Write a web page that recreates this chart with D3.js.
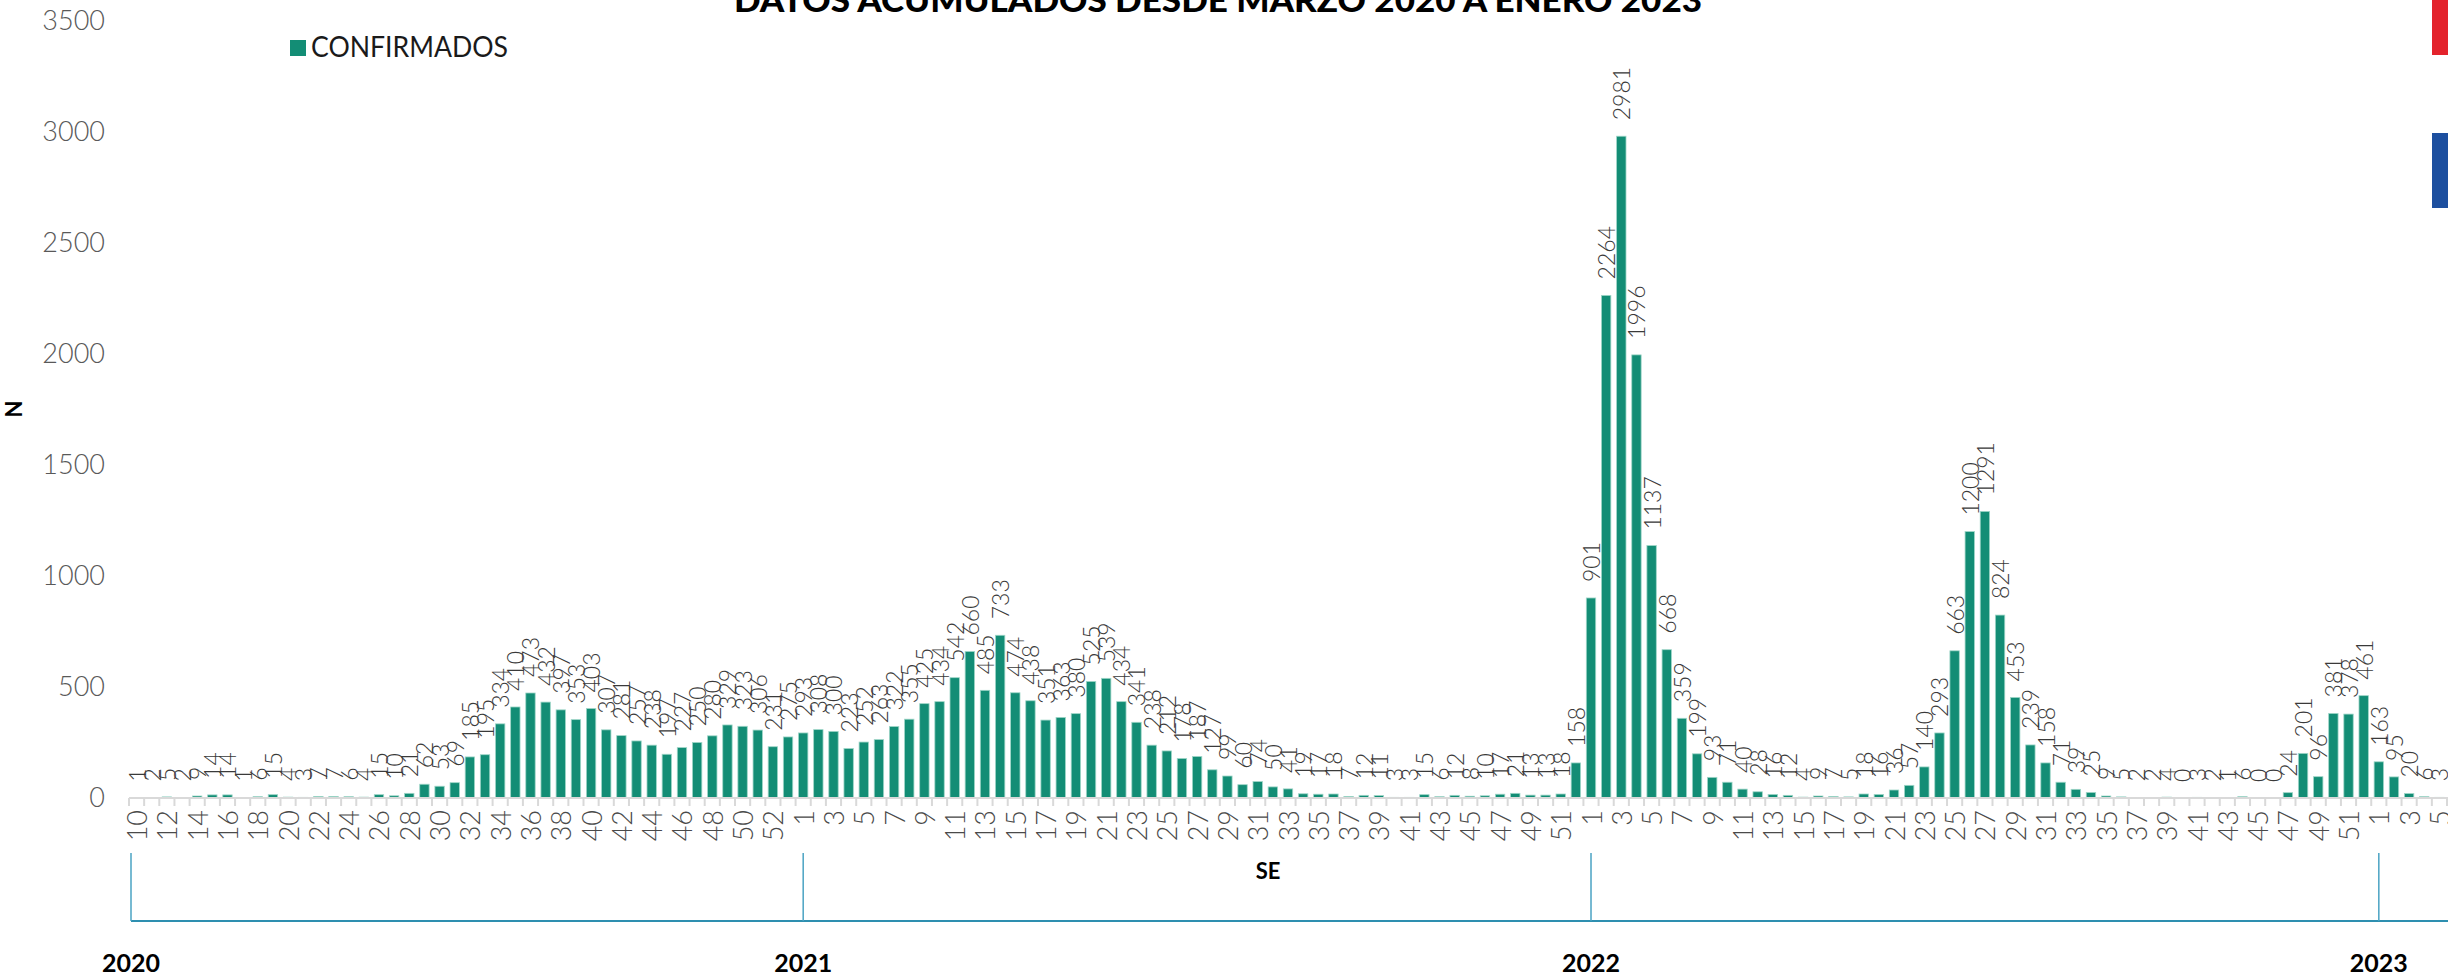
<!DOCTYPE html>
<html>
<head>
<meta charset="utf-8">
<script src="https://cdn.jsdelivr.net/npm/d3@7"></script>
<style>
  html, body { margin: 0; padding: 0; background: #ffffff; }
  svg { display: block; }
</style>
</head>
<body>
<svg id="chart" width="2448" height="977"></svg>
<script>
// ---------------- DATA ----------------
const title = "DATOS ACUMULADOS DESDE MARZO 2020 A ENERO 2023";
const seriesName = "CONFIRMADOS";
const yTicks = [0, 500, 1000, 1500, 2000, 2500, 3000, 3500];
const years = ["2020", "2021", "2022", "2023"];

const weeks2020 = d3.range(10, 54);   // SE 10..53
const cases2020 = [1, 2, 5, 2, 9, 14, 14, 1, 6, 15, 4, 3, 7, 7, 6, 4, 15, 10, 21, 62,
  53, 69, 185, 195, 334, 410, 473, 432, 397, 353, 403, 307, 281, 257, 238, 197, 227, 250,
  280, 329, 323, 306, 231, 275];

const weeks2021 = d3.range(1, 53);    // SE 1..52
const cases2021 = [293, 308, 300, 223, 252, 263, 322, 355, 425, 434, 542, 660, 485, 733,
  474, 438, 351, 363, 380, 525, 539, 434, 341, 238, 212, 178, 187, 127, 99, 60, 74, 50,
  41, 19, 17, 18, 7, 12, 11, 3, 3, 15, 6, 12, 8, 10, 17, 21, 13, 13, 18, 158];

const weeks2022 = d3.range(1, 53);    // SE 1..52
const cases2022 = [901, 2264, 2981, 1996, 1137, 668, 359, 199, 93, 71, 40, 28, 16, 12, 4,
  9, 7, 5, 18, 16, 36, 57, 140, 293, 663, 1200, 1291, 824, 453, 239, 158, 71, 39, 25, 9,
  5, 2, 2, 4, 0, 3, 2, 1, 6, 0, 0, 24, 201, 96, 381, 378, 461];

const weeks2023 = d3.range(1, 6);     // SE 1..5
const cases2023 = [163, 95, 20, 6, 3];

// ---------------- BUILD ----------------
const data = [];
[[years[0], weeks2020, cases2020], [years[1], weeks2021, cases2021],
 [years[2], weeks2022, cases2022], [years[3], weeks2023, cases2023]].forEach(([yr, wk, cs]) => {
  wk.forEach((w, i) => data.push({ key: yr + "-" + w, year: yr, week: w, value: cs[i] }));
});

const W = 2448, H = 977;
const svg = d3.select("#chart");
svg.append("rect").attr("width", W).attr("height", H).attr("fill", "#ffffff");

const barColor = "#138d75";
const numFont = "Lato, 'Open Sans', sans-serif";

const x = d3.scaleBand()
  .domain(data.map(d => d.key))
  .range([129, 2447])
  .paddingInner(0.38)
  .paddingOuter(0.19);

const y = d3.scaleLinear().domain([0, 3500]).range([798, 21]);

const step = x.step();
const bw = x.bandwidth();
const cx = d => x(d.key) + bw / 2;

// Title (clipped at top)
svg.append("text")
  .attr("x", 734).attr("y", 12)
  .attr("textLength", 968).attr("lengthAdjust", "spacingAndGlyphs")
  .attr("font-family", "Lato, 'Liberation Sans', sans-serif")
  .attr("font-weight", 900)
  .attr("font-size", 32)
  .attr("fill", "#000")
  .text(title);

// Legend
svg.append("rect").attr("x", 290).attr("y", 40).attr("width", 16).attr("height", 16).attr("fill", barColor);
svg.append("text")
  .attr("x", 311).attr("y", 57)
  .attr("textLength", 197).attr("lengthAdjust", "spacingAndGlyphs")
  .attr("font-family", numFont).attr("font-size", 28).attr("font-weight", 400)
  .attr("fill", "#1a1a1a")
  .text(seriesName);

// Y axis labels
svg.append("g").selectAll("text").data(yTicks).join("text")
  .attr("x", 105).attr("y", d => y(d))
  .attr("dy", "0.35em")
  .attr("text-anchor", "end")
  .attr("font-family", numFont).attr("font-weight", 300).attr("font-size", 27)
  .attr("fill", "#595959")
  .text(d => d);

// Y axis title
svg.append("text")
  .attr("transform", "translate(13,409) rotate(-90)")
  .attr("text-anchor", "middle")
  .attr("dominant-baseline", "central")
  .attr("font-family", numFont).attr("font-weight", 700).attr("font-size", 22)
  .attr("fill", "#000")
  .text("N");

// Bars
svg.append("g").selectAll("rect").data(data).join("rect")
  .attr("x", d => x(d.key))
  .attr("y", d => y(d.value))
  .attr("width", bw)
  .attr("height", d => y(0) - y(d.value))
  .attr("fill", barColor)
  .attr("stroke", "#9fd6c8")
  .attr("stroke-width", 0.8);

// X axis line and ticks
const axisG = svg.append("g");
axisG.append("line")
  .attr("x1", 129).attr("x2", 2448).attr("y1", 798).attr("y2", 798)
  .attr("stroke", "#d9d9d9").attr("stroke-width", 2);
const boundaries = data.map(d => x(d.key) - (step - bw) / 2);
boundaries.push(x(data[data.length - 1].key) + bw + (step - bw) / 2);
axisG.selectAll("line.tick").data(boundaries).join("line")
  .attr("class", "tick")
  .attr("x1", d => d).attr("x2", d => d)
  .attr("y1", 798).attr("y2", 806)
  .attr("stroke", "#d9d9d9").attr("stroke-width", 2);

// Week labels (every other)
axisG.selectAll("text.wk").data(data.filter((d, i) => i % 2 === 0)).join("text")
  .attr("class", "wk")
  .attr("transform", d => `translate(${cx(d)},810) rotate(-90)`)
  .attr("text-anchor", "end")
  .attr("dominant-baseline", "central")
  .attr("font-family", numFont).attr("font-weight", 300).attr("font-size", 27)
  .attr("fill", "#4a4a4a")
  .text(d => d.week);

// Value labels
svg.append("g").selectAll("text").data(data).join("text")
  .attr("transform", d => `translate(${cx(d)},${y(d.value) - 16}) rotate(-90)`)
  .attr("text-anchor", "start")
  .attr("dominant-baseline", "central")
  .attr("font-family", numFont).attr("font-weight", 300).attr("font-size", 23)
  .attr("fill", "#3a3a3a")
  .text(d => d.value);

// SE label
svg.append("text")
  .attr("x", 1268).attr("y", 879)
  .attr("text-anchor", "middle")
  .attr("font-family", numFont).attr("font-weight", 700).attr("font-size", 22)
  .attr("fill", "#000")
  .text("SE");

// Year axis
const yearPos = years.map((yr, i) => {
  if (i === 0) return 131;
  const d = data.find(e => e.year === yr && e.week === 1);
  return cx(d);
});
const yg = svg.append("g");
yg.append("line")
  .attr("x1", 131).attr("x2", 2448).attr("y1", 921).attr("y2", 921)
  .attr("stroke", "#2e8fb0").attr("stroke-width", 2);
yg.selectAll("line.yr").data(yearPos).join("line")
  .attr("class", "yr")
  .attr("x1", d => d).attr("x2", d => d)
  .attr("y1", 853).attr("y2", 921)
  .attr("stroke", "#4aa3c3").attr("stroke-width", 1.5);
yg.selectAll("text").data(years).join("text")
  .attr("x", (d, i) => yearPos[i])
  .attr("y", 972)
  .attr("text-anchor", "middle")
  .attr("font-family", numFont).attr("font-weight", 700).attr("font-size", 25)
  .attr("fill", "#000")
  .text(d => d);

// Decorative flag blocks at right edge
svg.append("rect").attr("x", 2432).attr("y", 0).attr("width", 16).attr("height", 55).attr("fill", "#e3232c");
svg.append("rect").attr("x", 2432).attr("y", 133).attr("width", 16).attr("height", 75).attr("fill", "#1d4f9f");
</script>
</body>
</html>
